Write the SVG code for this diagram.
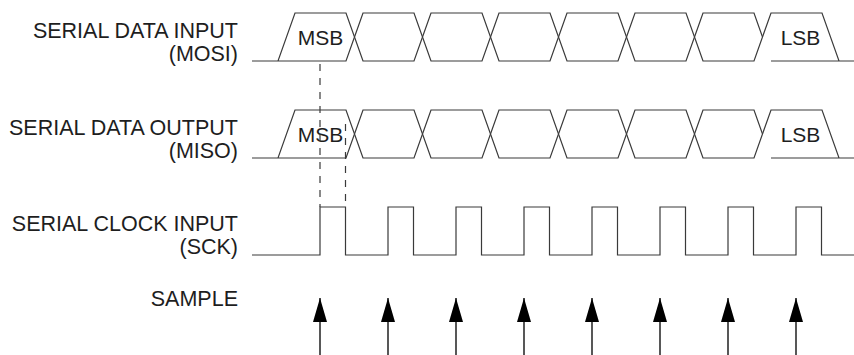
<svg xmlns="http://www.w3.org/2000/svg" width="854" height="355" viewBox="0 0 854 355">
<style>
.lbl{font-family:"Liberation Sans",Arial,sans-serif;font-size:21.5px;fill:#1e1e1e;text-anchor:end}
.bit{font-family:"Liberation Sans",Arial,sans-serif;font-size:21px;fill:#1e1e1e;text-anchor:middle}
.w{fill:none;stroke:#3a3a3a;stroke-width:1.2;stroke-linejoin:miter}
.d{fill:none;stroke:#3a3a3a;stroke-width:1.2;stroke-dasharray:7 7}
.a{stroke:#111;stroke-width:1.4}
</style>
<defs>
<marker id="ah" markerWidth="14" markerHeight="24" refX="7" refY="0" orient="0" markerUnits="userSpaceOnUse" viewBox="0 0 14 24">
<polygon points="7,0 14,24 0,24" fill="#000"/>
</marker>
</defs>
<g id="labels">
<text class="lbl" x="238" y="38">SERIAL DATA INPUT</text>
<text class="lbl" x="238" y="61">(MOSI)</text>
<text class="lbl" x="238" y="135">SERIAL DATA OUTPUT</text>
<text class="lbl" x="238" y="158">(MISO)</text>
<text class="lbl" x="238" y="231">SERIAL CLOCK INPUT</text>
<text class="lbl" x="238" y="254">(SCK)</text>
<text class="lbl" x="238" y="306">SAMPLE</text>
</g>
<g id="mosi">
<path class="w" d="M252,61 H278 L295,13 H346 L354.5,37 L346,61 H278"/>
<path class="w" d="M354.5,37 L363,13 H414 L422.5,37 L414,61 H363 Z"/>
<path class="w" d="M422.5,37 L431,13 H482 L490.5,37 L482,61 H431 Z"/>
<path class="w" d="M490.5,37 L499,13 H550 L558.5,37 L550,61 H499 Z"/>
<path class="w" d="M558.5,37 L567,13 H618 L626.5,37 L618,61 H567 Z"/>
<path class="w" d="M626.5,37 L635,13 H686 L694.5,37 L686,61 H635 Z"/>
<path class="w" d="M694.5,37 L703,13 H754 L762.5,37 L754,61 H703 Z"/>
<path class="w" d="M762.5,37 L771,13 H822 L839,61 H854 M839,61 H771 Z"/>
<text class="bit" x="320.5" y="44.5">MSB</text>
<text class="bit" x="800.5" y="44.5">LSB</text>
</g>
<g id="miso">
<path class="w" d="M252,158 H278 L295,110 H346 L354.5,134 L346,158 H278"/>
<path class="w" d="M354.5,134 L363,110 H414 L422.5,134 L414,158 H363 Z"/>
<path class="w" d="M422.5,134 L431,110 H482 L490.5,134 L482,158 H431 Z"/>
<path class="w" d="M490.5,134 L499,110 H550 L558.5,134 L550,158 H499 Z"/>
<path class="w" d="M558.5,134 L567,110 H618 L626.5,134 L618,158 H567 Z"/>
<path class="w" d="M626.5,134 L635,110 H686 L694.5,134 L686,158 H635 Z"/>
<path class="w" d="M694.5,134 L703,110 H754 L762.5,134 L754,158 H703 Z"/>
<path class="w" d="M762.5,134 L771,110 H822 L839,158 H854 M839,158 H771 Z"/>
<text class="bit" x="320.5" y="141.5">MSB</text>
<text class="bit" x="800.5" y="141.5">LSB</text>
</g>
<g id="sck">
<path class="w" d="M252,255 H320 V207 H345.5 V255 H388 V207 H413.5 V255 H456 V207 H481.5 V255 H524 V207 H549.5 V255 H592 V207 H617.5 V255 H660 V207 H685.5 V255 H728 V207 H753.5 V255 H796 V207 H821.5 V255 H854"/>
</g>
<g id="connectors">
<line class="d" x1="320" y1="64" x2="320" y2="207"/>
<line class="d" x1="345.5" y1="124" x2="345.5" y2="207"/>
<line class="a" x1="320" y1="355" x2="320" y2="298" marker-end="url(#ah)"/>
<line class="a" x1="388" y1="355" x2="388" y2="298" marker-end="url(#ah)"/>
<line class="a" x1="456" y1="355" x2="456" y2="298" marker-end="url(#ah)"/>
<line class="a" x1="524" y1="355" x2="524" y2="298" marker-end="url(#ah)"/>
<line class="a" x1="592" y1="355" x2="592" y2="298" marker-end="url(#ah)"/>
<line class="a" x1="660" y1="355" x2="660" y2="298" marker-end="url(#ah)"/>
<line class="a" x1="728" y1="355" x2="728" y2="298" marker-end="url(#ah)"/>
<line class="a" x1="796" y1="355" x2="796" y2="298" marker-end="url(#ah)"/>
</g>
</svg>
